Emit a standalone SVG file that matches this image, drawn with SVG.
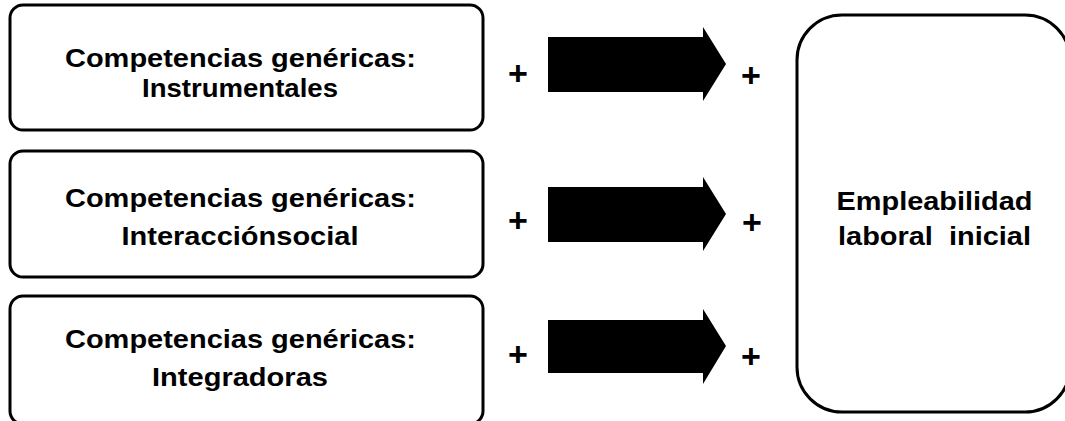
<svg xmlns="http://www.w3.org/2000/svg" width="1065" height="421" viewBox="0 0 1065 421">
<style>
.box{fill:#fff;stroke:#000;stroke-width:3}
.t{font-family:"Liberation Sans",Arial,sans-serif;font-weight:bold;font-size:26px;fill:#000;text-anchor:middle;white-space:pre}
.plus{font-family:"Liberation Sans",Arial,sans-serif;font-weight:bold;font-size:34px;fill:#000;text-anchor:middle}
.arr{fill:#000}
</style>
<rect width="1065" height="421" fill="#fff"/>
<g id="n1">
<rect class="box" x="10" y="5" width="473" height="125" rx="13"/>
<text class="t" x="240.5" y="67" textLength="351" lengthAdjust="spacingAndGlyphs">Competencias genéricas:</text>
<text class="t" x="240" y="97" textLength="196" lengthAdjust="spacingAndGlyphs">Instrumentales</text>
</g>
<g id="n2">
<rect class="box" x="10" y="151" width="473" height="126" rx="13"/>
<text class="t" x="240.5" y="207" textLength="351" lengthAdjust="spacingAndGlyphs">Competencias genéricas:</text>
<text class="t" x="240" y="245" textLength="237" lengthAdjust="spacingAndGlyphs">Interacciónsocial</text>
</g>
<g id="n3">
<rect class="box" x="10" y="296" width="473" height="128" rx="13"/>
<text class="t" x="240.5" y="348" textLength="351" lengthAdjust="spacingAndGlyphs">Competencias genéricas:</text>
<text class="t" x="240" y="386" textLength="176" lengthAdjust="spacingAndGlyphs">Integradoras</text>
</g>
<g id="n4">
<rect class="box" x="797" y="15" width="273" height="397" rx="45"/>
<text class="t" x="934.5" y="210" textLength="196" lengthAdjust="spacingAndGlyphs">Empleabilidad</text>
<text class="t" x="934.5" y="245" textLength="193" lengthAdjust="spacingAndGlyphs">laboral  inicial</text>
</g>
<g id="connectors">
<text class="plus" x="518" y="85">+</text>
<polygon class="arr" points="548,37 703,37 703,27 726,64 703,101 703,92 548,92"/>
<text class="plus" x="751" y="87">+</text>
<text class="plus" x="518" y="232">+</text>
<polygon class="arr" points="548,187 703,187 703,177 726,214 703,251 703,242 548,242"/>
<text class="plus" x="752" y="234">+</text>
<text class="plus" x="518" y="366">+</text>
<polygon class="arr" points="548,320 703,320 703,309 726,346 703,384 703,373 548,373"/>
<text class="plus" x="751" y="368">+</text>
</g>
</svg>
